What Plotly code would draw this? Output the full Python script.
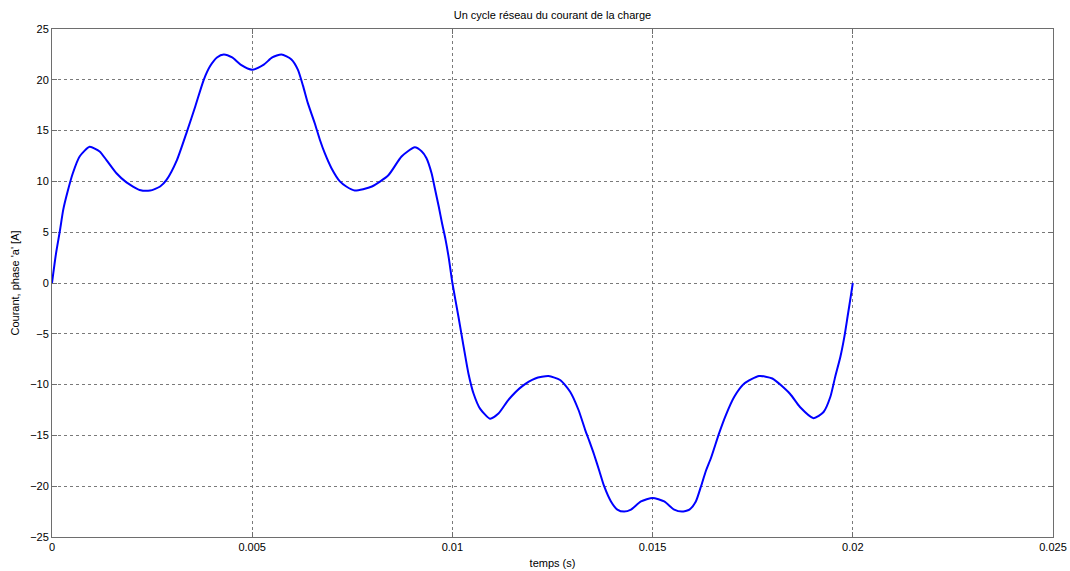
import plotly.graph_objects as go

# Time (s) and current (A)
t_s = [0.0, 0.0001, 0.0002, 0.00028, 0.00039, 0.00052, 0.00069, 0.00094, 0.00119, 0.00136,
       0.00161, 0.00186, 0.00219, 0.00245, 0.0027, 0.00286, 0.00312, 0.00337, 0.00358, 0.00379,
       0.00395, 0.00412, 0.00429, 0.0045, 0.00471, 0.005, 0.00529, 0.0055, 0.00573, 0.00598,
       0.00614, 0.00627, 0.00639, 0.00656, 0.00669, 0.00681, 0.00698, 0.00719, 0.00735, 0.00756,
       0.00799, 0.0084, 0.00873, 0.00906, 0.00923, 0.00935, 0.00948, 0.00956, 0.00966, 0.00974,
       0.00983, 0.00991, 0.01,
       0.01015, 0.01028, 0.0104, 0.01053, 0.01069, 0.01094, 0.01115, 0.0114, 0.01173, 0.01207,
       0.0124, 0.01269, 0.01294, 0.01315, 0.01332, 0.01342, 0.01354, 0.01367, 0.01379, 0.01396,
       0.01412, 0.01429, 0.01446, 0.01471, 0.015, 0.01529, 0.01554, 0.01573, 0.01592, 0.01608,
       0.01621, 0.01633, 0.01646, 0.01666, 0.01683, 0.01704, 0.01729, 0.01766, 0.01799, 0.01843,
       0.01868, 0.01902, 0.01927, 0.01944, 0.01956, 0.01969, 0.01979, 0.01987, 0.01995, 0.02]
courant_a = [0.0, 2.9, 5.2, 7.2, 9.0, 10.8, 12.45, 13.4, 12.95, 12.1,
             10.8, 9.9, 9.16, 9.1, 9.5, 10.15, 12.1, 14.9, 17.4, 20.0,
             21.35, 22.2, 22.5, 22.2, 21.5, 21.0, 21.5, 22.2, 22.5, 22.0,
             21.0, 19.4, 17.7, 15.75, 14.1, 12.8, 11.3, 10.0, 9.5, 9.1,
             9.5, 10.6, 12.45, 13.35, 12.96, 12.3, 10.8, 9.35, 7.5, 5.9,
             4.25, 2.45, 0.0,
             -3.3, -6.26, -8.9, -10.9, -12.36, -13.35, -12.85, -11.5, -10.2, -9.4,
             -9.16, -9.55, -10.7, -12.5, -14.5, -15.57, -16.9, -18.5, -20.0, -21.5,
             -22.3, -22.5, -22.3, -21.5, -21.15, -21.5, -22.3, -22.5, -22.3, -21.5,
             -20.0, -18.5, -17.2, -14.8, -13.0, -11.2, -9.9, -9.16, -9.4, -10.9,
             -12.2, -13.3, -12.7, -11.2, -9.24, -7.26, -5.28, -3.3, -1.3, 0.0]

x_ticks = [0, 0.005, 0.01, 0.015, 0.02, 0.025]
x_tick_labels = ["0", "0.005", "0.01", "0.015", "0.02", "0.025"]
y_ticks = [-25, -20, -15, -10, -5, 0, 5, 10, 15, 20, 25]

FONT = "Liberation Sans, Arial, Helvetica, sans-serif"

fig = go.Figure()
fig.add_trace(go.Scatter(x=t_s, y=courant_a, mode="lines",
                         line=dict(color="#0000ff", width=2, shape="spline", smoothing=0.6),
                         showlegend=False, hoverinfo="x+y"))

axis_common = dict(
    showline=True, linecolor="#6e6e6e", linewidth=1, mirror="ticks",
    ticks="inside", ticklen=5, tickcolor="#6e6e6e",
    showgrid=True, gridcolor="#7a7a7a", griddash="dot", gridwidth=1,
    zeroline=False, automargin=False,
    tickfont=dict(family=FONT, size=11, color="#000000"),
)

fig.update_layout(
    width=1070, height=571,
    margin=dict(l=52, r=17, t=29, b=34),
    paper_bgcolor="white", plot_bgcolor="white",
    title=dict(text="Un cycle réseau du courant de la charge", x=0.5, xref="paper",
               y=1 - 15 / 571, yref="container", yanchor="middle", xanchor="center",
               font=dict(family=FONT, size=11, color="#000000")),
    xaxis=dict(range=[0, 0.025], tickvals=x_ticks, ticktext=x_tick_labels,
               title=dict(text="temps (s)", standoff=7,
                          font=dict(family=FONT, size=11, color="#000000")),
               **axis_common),
    yaxis=dict(range=[-25, 25], tickvals=y_ticks,
               title=dict(text="Courant, phase 'a' [A]", standoff=8,
                          font=dict(family=FONT, size=11, color="#000000")),
               **axis_common),
)

fig.write_html("out.html")
